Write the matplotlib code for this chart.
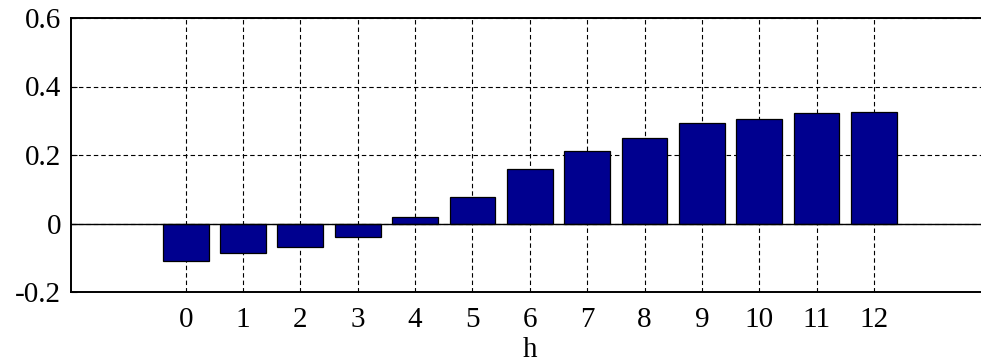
import matplotlib.pyplot as plt

# horizons and bar heights
h = [0, 1, 2, 3, 4, 5, 6, 7, 8, 9, 10, 11, 12]
values = [-0.110, -0.085, -0.068, -0.038, 0.019, 0.078, 0.158,
          0.213, 0.251, 0.294, 0.306, 0.324, 0.327]
yticks = [-0.2, 0, 0.2, 0.4, 0.6]
ytick_labels = ["-0.2", "0", "0.2", "0.4", "0.6"]

plt.rcParams["font.family"] = ["Liberation Serif", "DejaVu Serif"]
plt.rcParams["font.size"] = 21

fig = plt.figure(figsize=(9.81, 3.62), dpi=100)
# axes run past the right edge, as in the cropped reference
ax = fig.add_axes([71 / 981, 70 / 362, (988.6 - 71) / 981, 274 / 362])

ax.bar(h, values, width=0.8, color="#00008F", edgecolor="black",
       linewidth=0.9, zorder=3)
ax.axhline(0, color="black", linewidth=1.0, zorder=4)

ax.set_xlim(-2, 14)
ax.set_ylim(-0.2, 0.6)
ax.set_xticks(h)
ax.set_yticks(yticks)
ax.set_yticklabels(ytick_labels)
ax.set_xlabel("h", labelpad=3)

ax.grid(True, color="black", linestyle=(0, (4, 2.7)), linewidth=0.8, zorder=1)
ax.set_axisbelow(True)
ax.tick_params(axis="y", direction="in", length=4, pad=7)
ax.tick_params(axis="x", direction="in", length=0, pad=11)
for side in ["left", "bottom", "top"]:
    ax.spines[side].set_linewidth(1.4)
ax.spines["right"].set_visible(False)

fig.savefig("out.png", dpi=100)
